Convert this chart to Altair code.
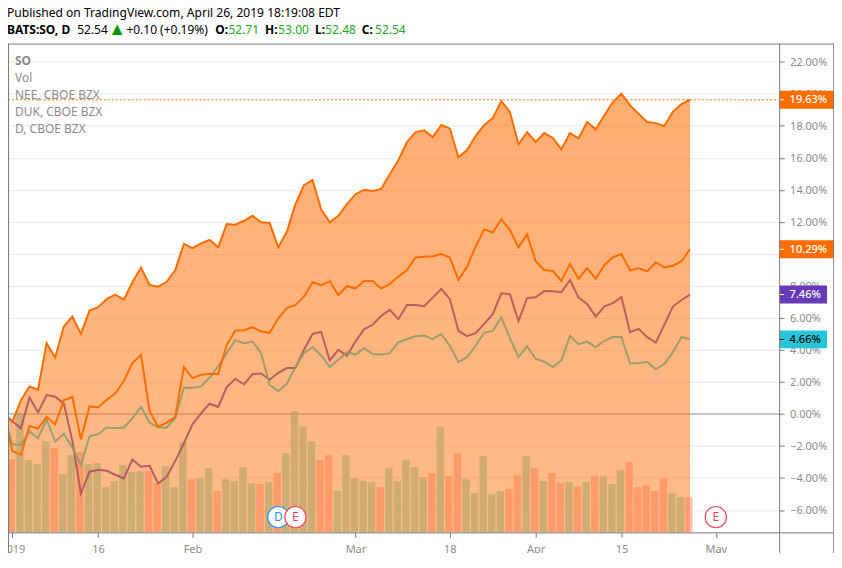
import altair as alt
import pandas as pd

so = [0,-0.50,0.85,1.72,1.51,4.42,3.53,5.46,6.08,5.00,6.46,6.67,7.17,7.45,7.14,8.23,9.14,8.06,7.95,8.26,8.99,
      10.63,10.36,10.66,10.88,10.43,11.86,11.82,12.07,12.38,11.98,11.94,10.41,11.38,13.11,14.29,14.62,12.78,11.98,12.38,13.11,
      13.73,14.00,13.93,14.06,14.98,15.85,16.99,17.61,17.72,17.30,18.05,17.84,16.04,16.49,17.36,18.05,18.48,19.54,18.86,16.85,
      17.61,16.99,17.55,17.24,16.53,17.55,17.22,18.24,17.78,18.65,19.48,20.00,19.28,18.76,18.24,18.17,17.99,18.88,19.36,19.63]
nee = [0,-2.31,-2.56,-0.75,-0.92,-0.19,-0.65,0.85,1.06,-1.58,0.47,0.41,0.89,1.27,2.06,3.18,3.70,0.19,-0.81,-0.54,-0.19,
       2.93,2.24,2.45,2.51,2.49,4.32,5.21,5.23,5.42,5.15,5.07,5.98,6.61,6.81,7.33,8.23,8.04,8.29,7.43,7.98,
       7.85,8.31,8.31,7.83,8.12,8.58,8.99,9.78,9.82,9.85,9.99,9.78,8.37,9.20,10.45,11.53,11.34,12.17,11.49,10.41,
       11.22,9.54,8.99,8.93,8.31,9.37,8.45,9.12,8.45,9.30,9.78,9.99,8.97,9.10,8.91,9.47,9.16,9.26,9.54,10.29]
duk = [0,-0.44,-0.90,1.02,0.10,1.18,1.08,0.66,-1.68,-4.97,-3.61,-3.49,-3.55,-3.80,-4.03,-2.85,-3.30,-3.24,-4.34,-3.93,-2.93,
       -1.83,-0.65,0.04,0.64,0.44,1.68,2.20,1.84,2.49,2.53,2.14,2.57,2.87,2.87,4.01,5.00,5.13,3.34,4.01,3.63,
       4.52,5.30,5.57,6.13,6.50,5.92,6.81,6.81,6.73,7.27,7.81,7.17,5.19,4.86,5.05,5.63,6.23,7.54,7.48,5.81,
       7.23,7.29,7.68,7.67,7.60,8.37,7.27,6.87,6.08,6.71,6.92,7.29,5.11,5.32,4.80,4.46,5.57,6.71,7.12,7.46]
dom = [0,-1.89,-1.93,-1.10,-1.52,-0.34,-1.73,-1.23,-2.10,-3.18,-1.40,-1.27,-0.85,-0.90,-0.85,-0.27,0.44,-0.54,-0.85,-0.84,-0.27,
       1.64,1.64,1.72,2.26,2.97,3.80,4.61,4.42,4.52,3.80,1.81,1.43,1.89,2.93,3.80,4.18,3.65,2.93,3.38,3.86,
       3.71,4.11,3.74,3.71,3.80,4.49,4.67,4.86,4.90,4.67,4.99,4.26,3.24,3.55,4.26,5.07,5.19,6.05,4.74,3.55,
       4.24,3.45,3.26,2.93,3.34,4.88,4.36,4.52,4.18,4.57,4.80,4.80,3.15,3.18,3.24,2.80,3.12,3.86,4.80,4.66]
sessions = list(range(-1, 80))

volume = [3.67,5.97,3.62,3.42,4.57,4.22,2.92,3.87,4.02,3.42,3.47,2.27,2.57,3.37,3.02,3.07,3.07,2.47,3.32,2.27,
          4.52,2.67,2.72,3.22,2.07,2.67,2.57,3.27,2.47,2.42,2.52,2.97,3.97,6.07,5.32,4.57,3.62,3.87,2.07,3.87,
          2.72,2.57,2.52,2.27,3.22,2.57,3.62,3.27,2.77,2.97,5.27,2.82,3.97,2.67,1.97,3.82,1.92,2.07,2.17,2.87,
          3.82,3.22,2.57,2.97,2.47,2.52,2.32,2.52,2.82,2.82,2.42,3.12,3.52,2.27,2.37,2.07,2.72,1.97,1.77,1.77]
down_days = {0,5,8,16,17,21,24,29,31,36,37,43,49,51,52,58,59,61,63,64,66,68,72,73,74,75,76,79}

tick_pos = [0,10,21,40,51,61,71,82]
tick_lab = ["2019","16","Feb","Mar","18","Apr","15","May"]
y_ticks = list(range(-6, 24, 2))
legend_names = ["SO","Vol","NEE, CBOE BZX","DUK, CBOE BZX","D, CBOE BZX"]
tag_vals = [19.63,10.29,7.46,4.66]
tag_cols = ["#FF6D00","#FF6D00","#673AB7","#26C6DA"]
tag_txt = ["#ffffff","#ffffff","#ffffff","#000000"]
tag_ends = [827.7,827.7,821,821]

W, H = 773, 490
FONT = "Noto Sans"
GRAY = "#787878"
xs = alt.Scale(domain=[-0.5, 89.38], nice=False, zero=False, padding=0)
ys = alt.Scale(domain=[-7.40, 23.14], nice=False, zero=False)

line_df = pd.DataFrame({"i":sessions,"so":so,"nee":nee,"duk":duk,"dom":dom})
base_y = -7.40
line_df["base"] = base_y
vol_df = pd.DataFrame({"i":list(range(80)),"v":volume,
                       "d":["down" if k in down_days else "up" for k in range(80)]})

lab_map = "{" + ",".join(f'"{p}":"{l}"' for p,l in zip(tick_pos,tick_lab)) + "}"
x_axis = alt.Axis(values=tick_pos, labelExpr=f"{lab_map}[datum.value]", grid=False, domain=False,
                  tickColor=GRAY, tickSize=5, labelColor="#8a8a8a", labelFont=FONT, labelFontSize=11,
                  labelPadding=6, labelOverlap=False, labelBound=False, labelFlush=False, title=None)
y_axis = alt.Axis(orient="right", values=y_ticks,
                  labelExpr="replace(format(datum.value,'.2f'),'-','\u2212')+'%'",
                  grid=True, gridColor="#E1ECF2", gridWidth=1, domain=False, tickColor=GRAY, tickSize=5,
                  labelColor="#8a8a8a", labelFont=FONT, labelFontSize=11, labelPadding=5.5, labelOffset=0.5,
                  labelOverlap=False, title=None)

def ln(col, color, opacity=1.0):
    return alt.Chart(line_df).mark_line(color=color, strokeWidth=2, opacity=opacity, clip=True).encode(
        x=alt.X("i:Q", scale=xs, axis=x_axis), y=alt.Y(f"{col}:Q", scale=ys, axis=y_axis))

grid_zero = alt.Chart(pd.DataFrame({"y":[0.0]})).mark_rule(color="#9598A1", strokeWidth=1).encode(
    y=alt.Y("y:Q", scale=ys, axis=y_axis), x=alt.value(0), x2=alt.value(W))

bars = alt.Chart(vol_df).mark_bar(size=7.4, xOffset=-1, clip=True).encode(
    x=alt.X("i:Q", scale=xs, axis=x_axis),
    y=alt.Y("v:Q", scale=alt.Scale(domain=[0,24.5], nice=False), axis=None),
    color=alt.Color("d:N", scale=alt.Scale(domain=["up","down"], range=["#A6E4D9","#FFC4C6"]), legend=None))

area = alt.Chart(line_df).mark_area(clip=True,
    color=alt.Gradient(gradient="linear", x1=0, x2=0, y1=0, y2=1,
        stops=[alt.GradientStop(color="rgba(255,109,0,0.56)", offset=0),
               alt.GradientStop(color="rgba(255,109,0,0.46)", offset=1)])).encode(
    x=alt.X("i:Q", scale=xs, axis=x_axis), y=alt.Y("so:Q", scale=ys, axis=y_axis), y2="base:Q")

price_line = alt.Chart(pd.DataFrame({"y":[tag_vals[0]]})).mark_rule(color="#FF6D00", strokeWidth=1, strokeDash=[2,2]).encode(
    y=alt.Y("y:Q", scale=ys, axis=y_axis), x=alt.value(0), x2=alt.value(W))

tag_df = pd.DataFrame({"v":tag_vals,"c":tag_cols,"t":tag_txt,"e":tag_ends,
                       "s":[f"{v:.2f}%" for v in tag_vals]})
tag_layers = []
for _, r in tag_df.iterrows():
    d = pd.DataFrame([r])
    tag_layers.append(alt.Chart(d).mark_rule(color=r["c"], strokeWidth=18).encode(
        y=alt.Y("v:Q", scale=ys, axis=y_axis), x=alt.value(W), x2=alt.value(r["e"])))
    tag_layers.append(alt.Chart(d).mark_rule(color=r["t"], strokeWidth=1).encode(
        y=alt.Y("v:Q", scale=ys, axis=y_axis), x=alt.value(W), x2=alt.value(W+5)))
    tag_layers.append(alt.Chart(d).mark_text(align="left", baseline="middle", font=FONT, fontSize=11,
                                             fontWeight=500, color=r["t"], dy=0.5).encode(
        y=alt.Y("v:Q", scale=ys, axis=y_axis), x=alt.value(W+10.5), text="s:N"))

def rule(x, x2, y, y2=None, color=GRAY):
    enc = dict(x=alt.value(x), y=alt.value(y))
    if x2 is not None: enc["x2"] = alt.value(x2)
    if y2 is not None: enc["y2"] = alt.value(y2)
    return alt.Chart().mark_rule(color=color, strokeWidth=1).encode(**enc)

frame = [rule(0.5,None,0,518), rule(0,827.7,0.5), rule(0,827.7,H+0.5), rule(0,827.7,518),
         rule(W+0.5,None,0,518), rule(827.7,None,0,518)]

def label(txt, x, y, color="#000000", weight="normal", size=12, align="left"):
    return alt.Chart(pd.DataFrame({"s":[txt]})).mark_text(align=align, baseline="middle", font=FONT,
        fontSize=size, fontWeight=weight, color=color).encode(x=alt.value(x), y=alt.value(y), text="s:N")

GREEN = "#22AB22"
ROW2 = -13.3
header = [
    label("Published on TradingView.com, April 26, 2019 18:19:08 EDT", -1, -30.5, size=12.1),
    label("BATS:SO, D", -1, ROW2, weight="bold"),
    label("52.54", 69.3, ROW2),
    label("\u25B2", 109.5, ROW2, color="#009900", size=18, align="center"),
    label("+0.10 (+0.19%)", 118.7, ROW2),
    label("O:", 207.7, ROW2, weight="bold"), label("52.71", 221, ROW2, color=GREEN),
    label("H:", 257.7, ROW2, weight="bold"), label("53.00", 271, ROW2, color=GREEN),
    label("L:", 307.7, ROW2, weight="bold"), label("52.48", 318, ROW2, color=GREEN),
    label("C:", 354.7, ROW2, weight="bold"), label("52.54", 368, ROW2, color=GREEN),
]
legend_y = [17.5,34.5,52,69,85.5]
legend = [label(n, 7, ly, color="#8a8a8a", weight="bold" if n=="SO" else "normal")
          for n, ly in zip(legend_names, legend_y)]

badge_pos = [31, 33, 82]
badge_txt = ["D","E","E"]
badge_col = ["#2196F3","#F0475C","#F0475C"]
badges = []
for p, t, c in zip(badge_pos, badge_txt, badge_col):
    d = pd.DataFrame({"i":[p],"t":[t]})
    badges.append(alt.Chart(d).mark_point(shape="circle", filled=True, fill="#ffffff", fillOpacity=1, stroke=c,
                                          strokeWidth=1.2, size=452, opacity=1).encode(
        x=alt.X("i:Q", scale=xs, axis=x_axis), y=alt.value(474.7)))
    badges.append(alt.Chart(d).mark_text(font=FONT, fontSize=12, color=c, baseline="middle").encode(
        x=alt.X("i:Q", scale=xs, axis=x_axis), y=alt.value(474.7), text="t:N"))

price_layers = alt.layer(grid_zero, ln("duk","#673AB7",0.9), ln("dom","#26C6DA",0.9), ln("nee","#FF6D00"), area, ln("so","#FF6D00"),
                         price_line, *tag_layers, *badges, *frame, *header, *legend)

chart = alt.layer(bars, price_layers).resolve_scale(y="independent").properties(
    width=W, height=H,
    padding={"left":0,"top":35,"right":55,"bottom":20},
    autosize=alt.AutoSizeParams(type="none"),
    background="#ffffff",
).configure_view(stroke=None)

chart.save("out.html", embed_options={"renderer":"svg","actions":False})
